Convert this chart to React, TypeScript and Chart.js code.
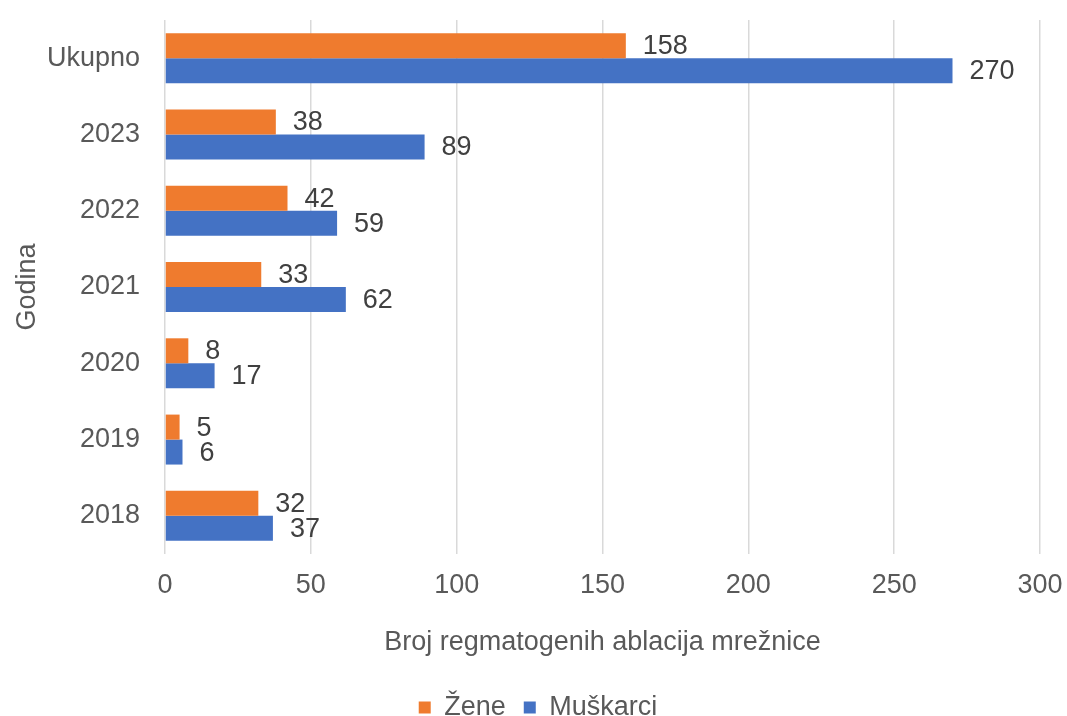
import React, { useEffect, useRef } from "react";
import { Chart, registerables } from "chart.js";

Chart.register(...registerables);

const categories = ["Ukupno", "2023", "2022", "2021", "2020", "2019", "2018"];
const zene = [158, 38, 42, 33, 8, 5, 32];
const muskarci = [270, 89, 59, 62, 17, 6, 37];
const seriesNames = ["Žene", "Muškarci"];
const xTitle = "Broj regmatogenih ablacija mrežnice";
const yTitle = "Godina";

const FONT = "'Liberation Sans', Arial, sans-serif";
const FS = 27;

const valueLabels = {
  id: "valueLabels",
  afterDatasetsDraw(chart: any) {
    const ctx = chart.ctx;
    ctx.save();
    ctx.font = `${FS}px ${FONT}`;
    ctx.fillStyle = "#404040";
    ctx.textAlign = "left";
    ctx.textBaseline = "middle";
    chart.data.datasets.forEach((ds: any, di: number) => {
      const meta = chart.getDatasetMeta(di);
      meta.data.forEach((bar: any, i: number) => {
        ctx.fillText(String(ds.data[i]), bar.x + 17, bar.y + 1);
      });
    });
    ctx.restore();
  },
};

const legendShift = {
  id: "legendShift",
  afterLayout(chart: any) {
    if (chart.legend) {
      chart.legend.left += 18;
      chart.legend.right += 18;
    }
  },
};

export default function App() {
  const ref = useRef<HTMLCanvasElement | null>(null);
  useEffect(() => {
    if (!ref.current) return;
    const chart = new Chart(ref.current, {
      type: "bar",
      data: {
        labels: categories,
        datasets: [
          {
            label: seriesNames[0],
            data: zene,
            backgroundColor: "#EF7B2E",
            borderWidth: 0,
            categoryPercentage: 0.655,
            barPercentage: 1,
          },
          {
            label: seriesNames[1],
            data: muskarci,
            backgroundColor: "#4472C4",
            borderWidth: 0,
            categoryPercentage: 0.655,
            barPercentage: 1,
          },
        ],
      },
      options: {
        indexAxis: "y",
        animation: false,
        responsive: false,
        maintainAspectRatio: false,
        layout: { padding: { left: 0, right: 27, top: 20, bottom: 0 } },
        plugins: {
          legend: {
            position: "bottom",
            labels: {
              font: { family: FONT, size: FS },
              color: "#595959",
              boxWidth: 12,
              boxHeight: 12,
              padding: 18,
            },
          },
          tooltip: { enabled: false },
        },
        scales: {
          x: {
            min: 0,
            max: 300,
            ticks: {
              stepSize: 50,
              font: { family: FONT, size: FS },
              color: "#595959",
              padding: 15,
            },
            grid: { color: "#d9d9d9", lineWidth: 1.5, drawTicks: false },
            border: { display: false },
            title: {
              display: true,
              text: xTitle,
              font: { family: FONT, size: FS },
              color: "#595959",
              padding: { top: 4, bottom: 17 },
            },
            afterFit(scale: any) {
              scale.height = 122;
              scale.paddingLeft = 0;
              scale.paddingRight = 0;
            },
          },
          y: {
            ticks: {
              font: { family: FONT, size: FS },
              color: "#595959",
              padding: 25,
            },
            grid: { display: false, drawTicks: false },
            border: { display: false },
            title: {
              display: true,
              text: yTitle,
              font: { family: FONT, size: FS },
              color: "#595959",
              padding: { top: 11, bottom: 0 },
            },
            afterFit(scale: any) {
              scale.width = 165;
              scale.paddingTop = 0;
              scale.paddingBottom = 0;
            },
          },
        },
      },
      plugins: [valueLabels, legendShift],
    });
    return () => chart.destroy();
  }, []);
  return (
    <div
      style={{
        position: "fixed",
        left: 0,
        top: 0,
        width: 1067,
        height: 716,
        overflow: "hidden",
        background: "#fff",
      }}
    >
      <canvas ref={ref} width={1067} height={731} style={{ display: "block" }} />
    </div>
  );
}
